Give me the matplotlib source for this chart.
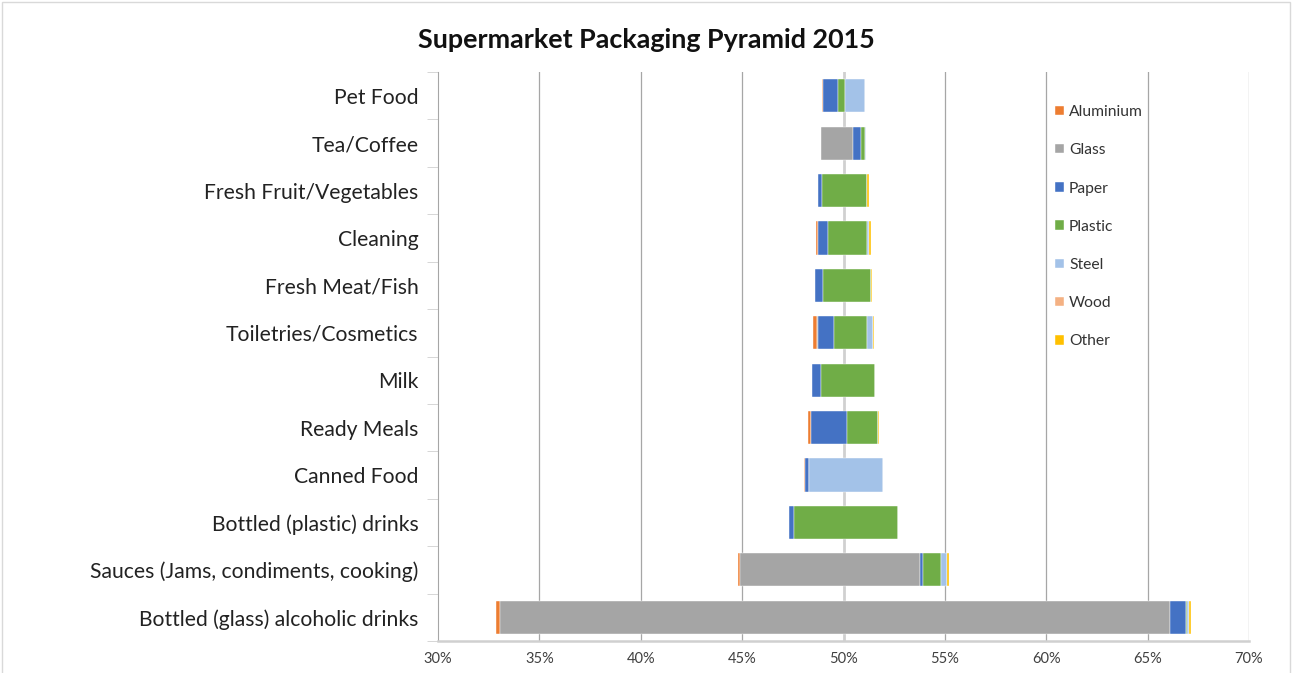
import matplotlib
matplotlib.use("Agg")
import matplotlib.pyplot as plt
from matplotlib.patches import Rectangle
import numpy as np

# categories bottom -> top, share (%) of each material
categories = ["Bottled (glass) alcoholic drinks", "Sauces (Jams, condiments, cooking)",
              "Bottled (plastic) drinks", "Canned Food", "Ready Meals", "Milk",
              "Toiletries/Cosmetics", "Fresh Meat/Fish", "Cleaning",
              "Fresh Fruit/Vegetables", "Tea/Coffee", "Pet Food"]

aluminium = [0.20, 0.07, 0.02, 0.05, 0.15, 0.00, 0.19, 0.00, 0.09, 0.00, 0.00, 0.05]
glass     = [33.05, 8.88, 0.00, 0.00, 0.00, 0.00, 0.05, 0.00, 0.00, 0.00, 1.56, 0.00]
paper     = [0.75, 0.15, 0.23, 0.20, 1.79, 0.43, 0.79, 0.39, 0.51, 0.17, 0.39, 0.73]
plastic   = [0.05, 0.88, 5.12, 0.00, 1.52, 2.68, 1.64, 2.37, 1.90, 2.24, 0.18, 0.38]
steel     = [0.10, 0.30, 0.00, 3.65, 0.00, 0.00, 0.29, 0.00, 0.08, 0.00, 0.05, 0.97]
wood      = [0.00, 0.00, 0.00, 0.00, 0.00, 0.00, 0.01, 0.00, 0.00, 0.00, 0.00, 0.00]
other     = [0.10, 0.08, 0.01, 0.00, 0.04, 0.00, 0.05, 0.03, 0.10, 0.06, 0.00, 0.00]

materials = ["Aluminium", "Glass", "Paper", "Plastic", "Steel", "Wood", "Other"]
colors = ["#ED7D31", "#A5A5A5", "#4472C4", "#70AD47", "#A3C2E8", "#F4B183", "#FFC000"]
xticks = [30, 35, 40, 45, 50, 55, 60, 65, 70]

plt.rcParams["font.family"] = ["Lato", "DejaVu Sans"]

series = np.array([aluminium, glass, paper, plastic, steel, wood, other])
totals = series.sum(axis=0)
left = 50 - totals / 2  # centre each stack on 50%

fig = plt.figure(figsize=(12.93, 6.73), dpi=100)
ax = fig.add_axes([438 / 1293, 1 - 641 / 673, (1249 - 438) / 1293, (641 - 72) / 673])

y = np.arange(len(categories))
for name, vals, c in zip(materials, series, colors):
    ax.barh(y, vals, left=left, height=0.7, color=c, label=name,
            edgecolor="white", linewidth=0.3, zorder=3)
    left = left + vals

ax.set_xlim(30, 70)
ax.set_ylim(-0.5, len(categories) - 0.5)
ax.set_xticks(xticks)
ax.set_xticklabels([f"{t}%" for t in xticks], fontsize=10.5, color="#404040")
ax.set_yticks(y)
ax.set_yticklabels(categories, fontsize=15.2, color="#222222")
ax.set_yticks(np.arange(len(categories) + 1) - 0.5, minor=True)
ax.tick_params(axis="y", which="major", length=0, pad=14)
ax.tick_params(axis="y", which="minor", length=8, color="#D0D0D0", direction="out")
ax.tick_params(axis="x", length=0, pad=8)

for x in xticks[1:]:
    if x == 50:
        ax.axvline(x, color="#D0D0D0", lw=2, zorder=1)
    else:
        ax.axvline(x, color="#A6A6A6", lw=0.9, zorder=1)

for s in ["top", "right"]:
    ax.spines[s].set_visible(False)
ax.spines["left"].set_color("#A6A6A6")
ax.spines["bottom"].set_color("#D0D0D0")
ax.spines["bottom"].set_linewidth(1.8)

fig.text(0.5, 1 - 40 / 673, "Supermarket Packaging Pyramid 2015", ha="center", va="center",
         fontsize=19.4, fontweight="bold", color="#111111")

leg = ax.legend(loc="upper left", bbox_to_anchor=(1041 / 1293, 1 - 91 / 673),
                bbox_transform=fig.transFigure, frameon=False, fontsize=11.25,
                handlelength=0.55, handleheight=0.55, handletextpad=0.35, labelspacing=1.55)
for t in leg.get_texts():
    t.set_color("#333333")

fig.patches.append(Rectangle((2 / 1293, -0.1), 1288 / 1293, 1.1 - 2 / 673, transform=fig.transFigure,
                             fill=False, edgecolor="#D9D9D9", lw=1))

fig.savefig("out.png", dpi=100)
